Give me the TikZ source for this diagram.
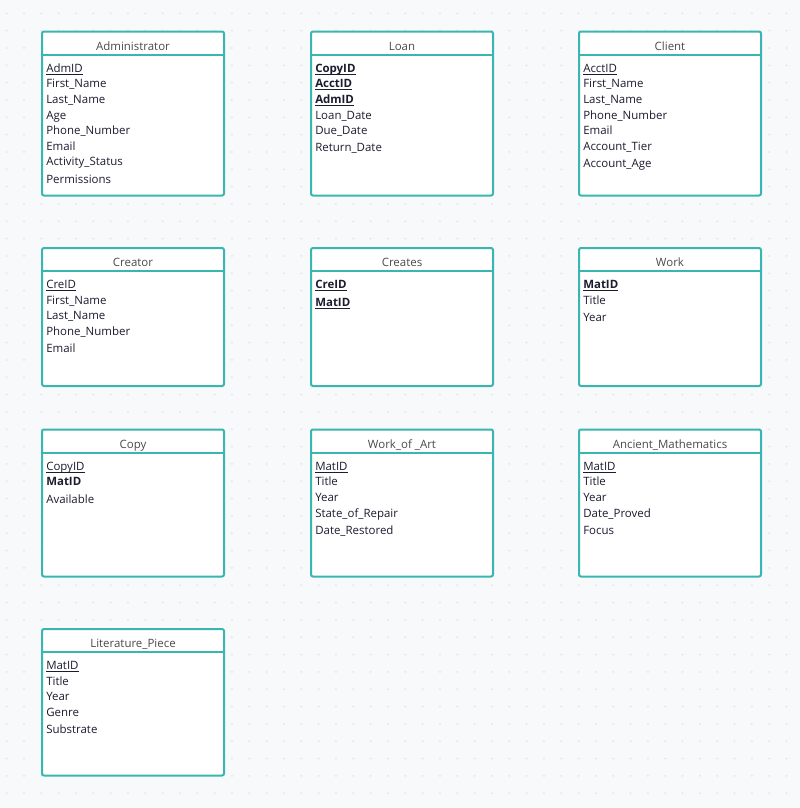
\documentclass[tikz,border=0pt]{standalone}
\usepackage{fontspec}
\setmainfont{Open Sans}
\definecolor{bgcol}{HTML}{F8F9FB}
\definecolor{dotcol}{HTML}{E2E4EA}
\definecolor{tealc}{HTML}{38B6AF}
\definecolor{hdrtext}{HTML}{4A4A4A}
\definecolor{fldtext}{HTML}{1C1C30}
\newcommand{\keyu}[1]{\underline{\smash{#1}}}
\tikzset{
  tbl/.style={draw=tealc, line width=1.5pt, fill=white, rounded corners=1.5pt, inner sep=0pt, anchor=north west},
  sepline/.style={draw=tealc, line width=1.5pt},
  hdr/.style={inner sep=0pt, anchor=base, text=hdrtext, font=\fontsize{8.6pt}{10pt}\selectfont},
  fld/.style={inner sep=0pt, anchor=base west, text=fldtext, font=\fontsize{8.6pt}{10pt}\selectfont},
}
\newcommand{\ertab}[7]{%
  \node[tbl, minimum width=182*0.75pt, minimum height={(#4-#3)*0.75pt}] (#1) at (#2,#3) {};
  \draw[sepline] ([yshift=-18pt]#1.north west) -- ([yshift=-18pt]#1.north east);
  \node[hdr] (#1-title) at ([yshift=-19.5*0.75pt]#1.north) {#5};
  \foreach \f [count=\k] in {#6} {
    \pgfmathsetmacro\yy{41.7+15.6*(\k-1)+(\k==#7)*1.7}
    \node[fld] (#1-\k) at ([xshift=5*0.75pt, yshift=-\yy*0.75pt]#1.north west) {\f};
  }
}
\begin{document}
\begin{tikzpicture}[x=0.75pt, y=-0.75pt]
\useasboundingbox (0,0) rectangle (800,808);
\fill[bgcol] (0,0) rectangle (800,808);
\foreach \i in {0,...,45} \foreach \j in {0,...,45}
  \fill[dotcol] (6.67+17.33*\i, 13.33+17.33*\j) circle (1);
% row 1
\ertab{adm}{41}{30.5}{194.5}{Administrator}{\keyu{AdmID},First\_Name,Last\_Name,Age,Phone\_Number,Email,Activity\_Status,Permissions}{8}
\ertab{loan}{310}{30.5}{194.5}{Loan}{\textbf{\keyu{CopyID}},\textbf{\keyu{AcctID}},\textbf{\keyu{AdmID}},Loan\_Date,Due\_Date,Return\_Date}{6}
\ertab{client}{578}{30.5}{194.5}{Client}{\keyu{AcctID},First\_Name,Last\_Name,Phone\_Number,Email,Account\_Tier,Account\_Age}{7}
% row 2
\ertab{creator}{41}{247}{385}{Creator}{\keyu{CreID},First\_Name,Last\_Name,Phone\_Number,Email}{5}
\ertab{creates}{310}{247}{385}{Creates}{\textbf{\keyu{CreID}},\textbf{\keyu{MatID}}}{2}
\ertab{work}{578}{247}{385}{Work}{\textbf{\keyu{MatID}},Title,Year}{3}
% row 3
\ertab{copy}{41}{428.5}{575.5}{Copy}{\keyu{CopyID},\textbf{MatID},Available}{3}
\ertab{woa}{310}{428.5}{575.5}{Work\_of \_Art}{\keyu{MatID},Title,Year,State\_of\_Repair,Date\_Restored}{5}
\ertab{anc}{578}{428.5}{575.5}{Ancient\_Mathematics}{\keyu{MatID},Title,Year,Date\_Proved,Focus}{5}
% row 4
\ertab{lit}{41}{628}{774.5}{Literature\_Piece}{\keyu{MatID},Title,Year,Genre,Substrate}{5}
\end{tikzpicture}
\end{document}
